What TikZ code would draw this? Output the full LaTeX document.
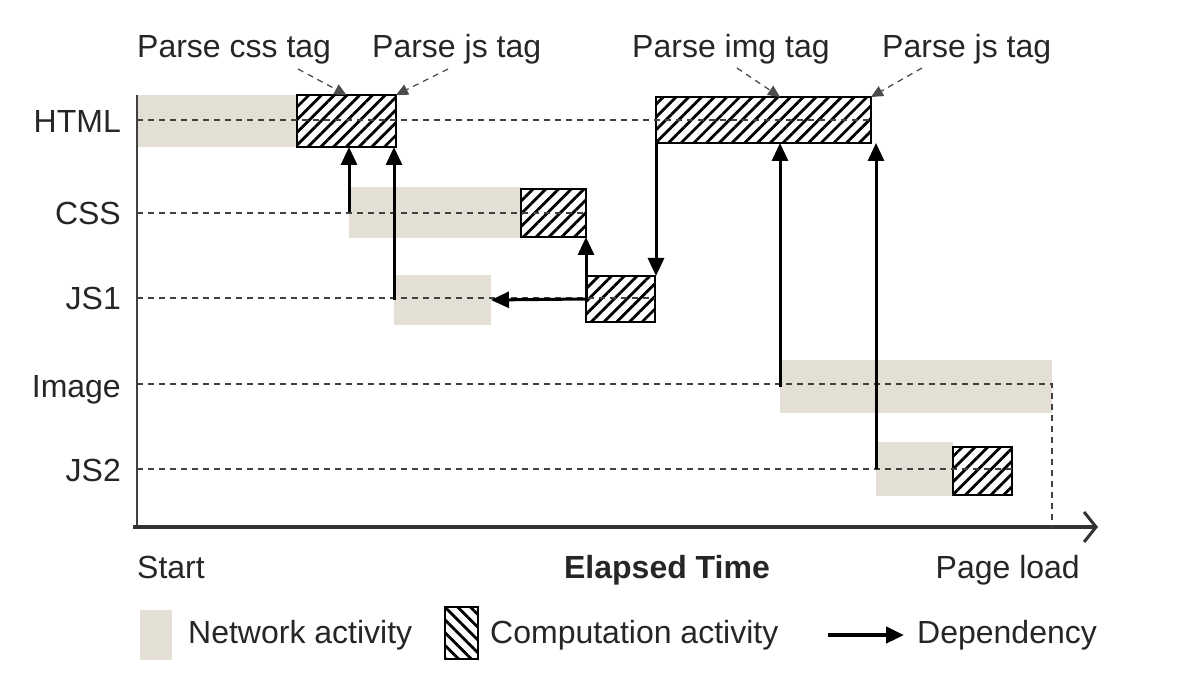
\documentclass[tikz,border=0pt]{standalone}
\usepackage{fontspec}
\setmainfont{Liberation Sans}
\usetikzlibrary{arrows.meta,patterns.meta}
\definecolor{beige}{RGB}{227,223,212}
\definecolor{txt}{RGB}{38,38,38}
\begin{document}
\begin{tikzpicture}[x=1pt,y=-1pt,
  font=\fontsize{32}{38}\selectfont,
  net/.style={fill=beige, draw=none, inner sep=0pt, outer sep=0pt, anchor=north west},
  comp/.style={draw=black, line width=2pt, pattern={Lines[angle=45,distance=9pt,line width=2.8pt]}, inner sep=0pt, outer sep=0pt, anchor=north west},
  dep/.style={line width=3pt, -{Triangle[length=18pt,width=16pt]}},
  rowline/.style={dash pattern=on 6pt off 5pt, line width=1.3pt, draw=black!75},
  note/.style={dash pattern=on 6pt off 5pt, line width=1.3pt, draw=black!70, -{Triangle[length=12pt,width=11pt]}},
  lab/.style={text=txt, inner sep=0pt},
  axisline/.style={line width=3.5pt, draw=black!80, -{Straight Barb[length=12pt,width=30pt,line width=3pt]}}
]
\useasboundingbox (0,0) rectangle (1188,684);

% network bars
\node[net, minimum width=160pt, minimum height=52pt] (hn) at (137,95) {};
\node[net, minimum width=172pt, minimum height=51pt] (cssn) at (349,187) {};
\node[net, minimum width=97pt, minimum height=50pt] (js1n) at (394,275) {};
\node[net, minimum width=272pt, minimum height=53pt] (imgn) at (780,360) {};
\node[net, minimum width=77pt, minimum height=54pt] (js2n) at (876,442) {};

% axes
\coordinate (o) at (133,527);
\coordinate (xend) at (1098,527);
\coordinate (ytop) at (137,95);
\coordinate (ybot) at (137,527);
\draw[line width=1.5pt, draw=black!75] (ytop) -- (ybot);
\draw[axisline] (o) -- (xend);

% row dashed lines
\coordinate (rh) at (137,120);
\coordinate (rc) at (137,213);
\coordinate (rj) at (137,298);
\coordinate (ri) at (137,384);
\coordinate (rj2) at (137,469);

% computation boxes
\node[comp, minimum width=99pt, minimum height=52pt] (h1) at (297,95) {};
\node[comp, minimum width=215pt, minimum height=46pt] (h2) at (656,97) {};
\node[comp, minimum width=65pt, minimum height=48pt] (cssc) at (521,189) {};
\node[comp, minimum width=69pt, minimum height=46pt] (js1c) at (586,276) {};
\node[comp, minimum width=59pt, minimum height=48pt] (js2c) at (953,447) {};

\draw[rowline] (rh) -- (rh -| h2.east);
\draw[rowline] (rc) -- (rc -| cssc.east);
\draw[rowline] (rj) -- (rj -| js1c.east);
\draw[rowline] (ri) -- (ri -| imgn.east) -- (imgn.east |- o);
\draw[rowline] (rj2) -- (rj2 -| js2c.east);

% row labels
\node[lab, anchor=base east] (lhtml) at (121,133) {HTML};
\node[lab, anchor=base east] (lcss) at (121,225) {CSS};
\node[lab, anchor=base east] (ljs1) at (121,310) {JS1};
\node[lab, anchor=base east] (limg) at (121,397) {Image};
\node[lab, anchor=base east] (ljs2) at (121,481) {JS2};

% dependencies
\draw[dep] (cssn.west) -- (cssn.west |- h1.south);
\draw[dep] (js1n.west) -- (js1n.west |- h1.south);
\draw[dep] (js1c.west) -- (js1c.west |- cssc.south);
\draw[dep] (js1c.west) -- (js1n.east);
\draw[dep] (h2.south west) -- (h2.south west |- js1c.north);
\draw[dep] (imgn.west) -- (imgn.west |- h2.south);
\draw[dep] (js2n.west) -- (js2n.west |- h2.south);

% annotations
\node[lab, anchor=base west] (pcss) at (137,58) {Parse css tag};
\node[lab, anchor=base west] (pjs1) at (372,58) {Parse js tag};
\node[lab, anchor=base west] (pimg) at (632,58) {Parse img tag};
\node[lab, anchor=base west] (pjs2) at (882,58) {Parse js tag};
\coordinate (a1) at (298,69);
\coordinate (a2) at (448,69);
\coordinate (a3) at (737,68);
\coordinate (a4) at (922,68);
\draw[note] (a1) -- (h1.north);
\draw[note] (a2) -- (h1.north east);
\draw[note] (a3) -- (imgn.west |- h2.north);
\draw[note] (a4) -- (h2.north east);

% axis labels
\node[lab, anchor=base west] (start) at (137,578) {Start};
\node[lab, anchor=base, font=\fontsize{32}{38}\selectfont\bfseries] (elapsed) at (667,578) {Elapsed Time};
\node[lab, anchor=base east] (pload) at (1080,578) {Page load};

% legend
\node[net, minimum width=32pt, minimum height=50pt] (lgnet) at (140,610) {};
\node[lab, anchor=base west] (tnet) at (188,643) {Network activity};
\node[comp, minimum width=33pt, minimum height=52pt, pattern={Lines[angle=-45,distance=9pt,line width=2.8pt]}] (lgcomp) at (445,607) {};
\node[lab, anchor=base west] (tcomp) at (490,643) {Computation activity};
\coordinate (ld1) at (828,635);
\coordinate (ld2) at (904,635);
\draw[dep, line width=4.5pt] (ld1) -- (ld2);
\node[lab, anchor=base west] (tdep) at (917,643) {Dependency};
\end{tikzpicture}
\end{document}
